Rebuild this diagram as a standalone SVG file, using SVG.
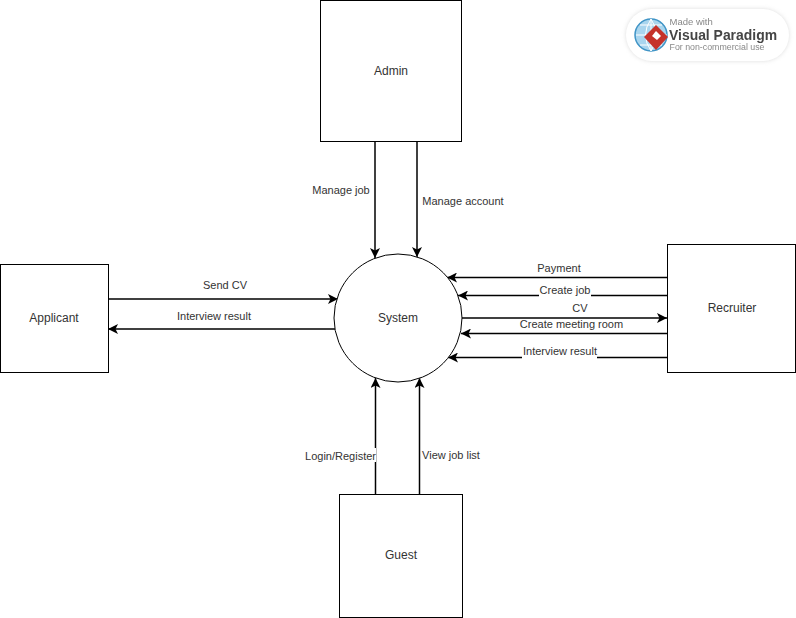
<svg xmlns="http://www.w3.org/2000/svg" width="796" height="618" viewBox="0 0 796 618">
<defs>
<marker id="ah" markerUnits="userSpaceOnUse" markerWidth="12" markerHeight="10" refX="10" refY="5" orient="auto"><path d="M0 0L10 5L0 10L2.5 5Z" fill="#000"/></marker>
<filter id="sh" x="-10%" y="-20%" width="120%" height="140%"><feGaussianBlur stdDeviation="2"/></filter>
<filter id="soft" x="-5%" y="-5%" width="110%" height="110%"><feGaussianBlur stdDeviation="0.4"/></filter>
</defs>
<style>
text{font-family:"Liberation Sans",Arial,sans-serif;font-size:11px;fill:#333;text-anchor:middle}
.nl{font-size:12px}
.n{fill:#fff;stroke:#000;stroke-width:1}
.c{fill:none;stroke:#000;stroke-width:1.5;marker-end:url(#ah)}
.b{fill:#fff}
</style>
<rect width="796" height="618" fill="#fff"/>
<g id="connectors">
<path class="c" d="M375 141V258"/>
<path class="c" d="M417 141V257"/>
<path class="c" d="M109 299H338"/>
<path class="c" d="M335 329H108"/>
<path class="c" d="M667 277.500H447"/>
<path class="c" d="M667 295.500H458"/>
<path class="c" d="M462 318H667"/>
<path class="c" d="M667 333.500H461"/>
<path class="c" d="M667 357.500H448"/>
<path class="c" d="M375.500 494V378"/>
<path class="c" d="M419.500 494V378"/>
</g>
<g id="connector-labels">
<text x="341" y="194">Manage job</text>
<text x="463" y="205">Manage account</text>
<text x="225" y="289">Send CV</text>
<text x="214" y="320">Interview result</text>
<text x="559" y="272">Payment</text>
<rect class="b" x="539" y="285" width="52" height="14"/><text x="565" y="294">Create job</text>
<text x="580" y="312">CV</text>
<text x="571.500" y="328">Create meeting room</text>
<rect class="b" x="522" y="345" width="75" height="14"/><text x="560" y="355">Interview result</text>
<rect class="b" x="305" y="448" width="71" height="14"/><text x="340.500" y="460">Login/Register</text>
<text x="451" y="459">View job list</text>
</g>
<g id="admin"><rect class="n" x="320.500" y="0.500" width="141" height="141"/><text class="nl" x="391" y="75">Admin</text></g>
<g id="applicant"><rect class="n" x="0.500" y="264.500" width="108" height="108"/><text class="nl" x="54" y="322">Applicant</text></g>
<g id="system"><circle class="n" cx="398" cy="318" r="64"/><text class="nl" x="398" y="322">System</text></g>
<g id="recruiter"><rect class="n" x="667.500" y="244.500" width="128" height="128"/><text class="nl" x="732" y="312">Recruiter</text></g>
<g id="guest"><rect class="n" x="339.500" y="494.500" width="123" height="123"/><text class="nl" x="401" y="559">Guest</text></g>
<g id="watermark">
<rect x="626" y="9" width="163" height="52" rx="26" fill="#bbb" opacity=".5" filter="url(#sh)"/>
<rect x="626" y="9" width="163" height="52" rx="26" fill="#fff"/>
<g filter="url(#soft)">
<circle cx="651" cy="35" r="16" fill="#a9d5ee" stroke="#3f94c6" stroke-width="1.500"/>
<path d="M636 35H667M651 19V51M640 25H662M640 45H662M651 19Q640 35 651 51M651 19Q662 35 651 51" fill="none" stroke="#fff" stroke-width="1"/>
<path d="M656 25L668 37L656 50L644 37Z" fill="#c5302b"/>
<path d="M656 31L661 36L657 40L652 36Z" fill="#fff"/>
<text x="669.500" y="25" style="font-size:9.500px;text-anchor:start;fill:#888">Made with</text>
<text x="669" y="40" style="font-size:14.500px;font-weight:bold;text-anchor:start;fill:#444" textLength="108" lengthAdjust="spacingAndGlyphs">Visual Paradigm</text>
<text x="669.500" y="50" style="font-size:9px;text-anchor:start;fill:#888" textLength="95" lengthAdjust="spacingAndGlyphs">For non-commercial use</text>
</g>
</g>
</svg>
